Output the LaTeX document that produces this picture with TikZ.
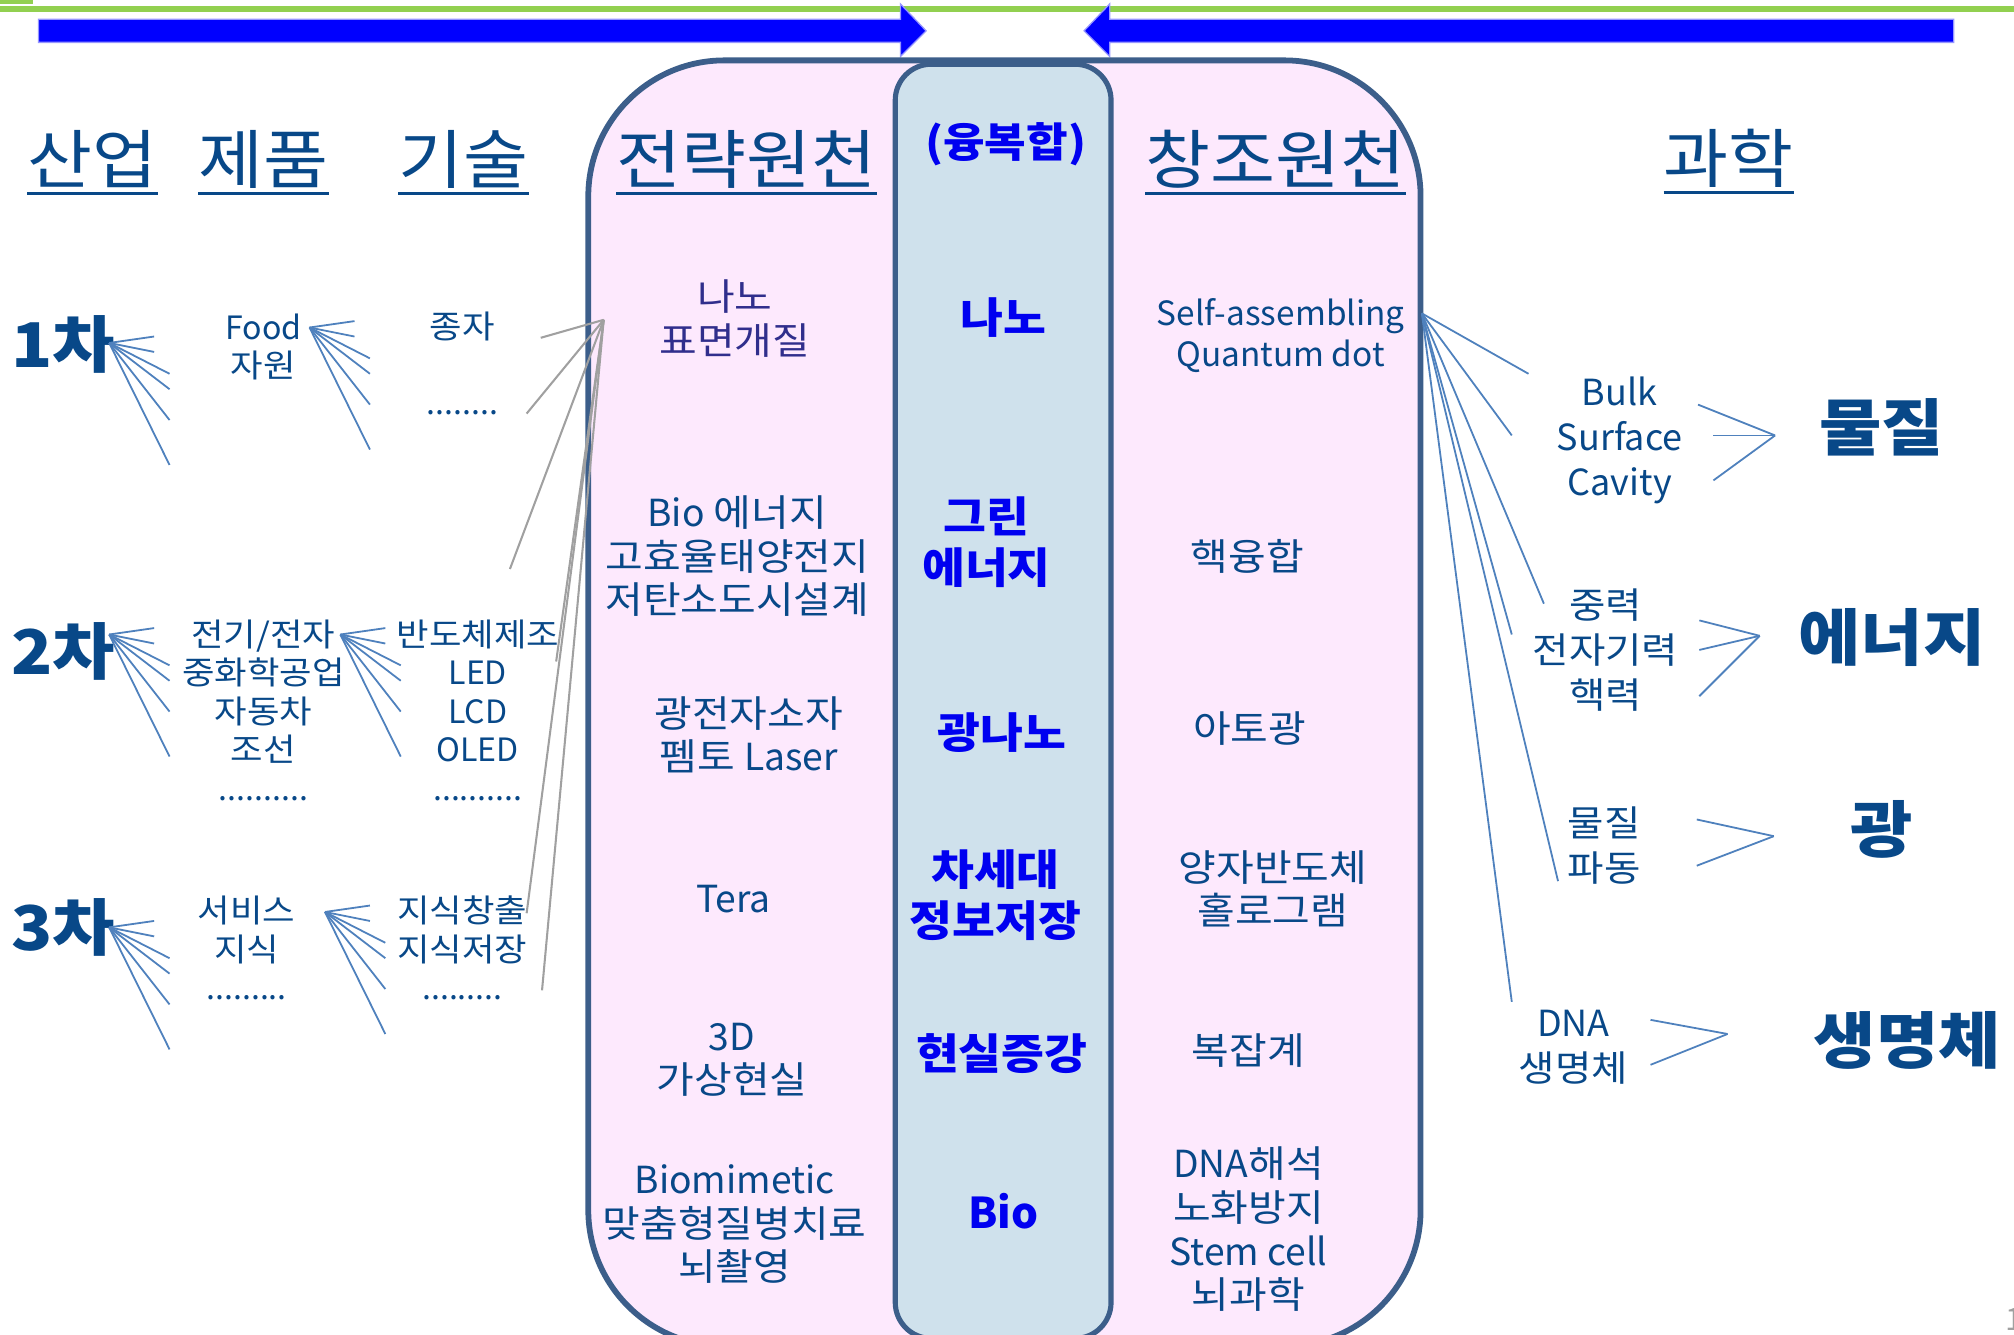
\documentclass[tikz,border=0pt]{standalone}
\usepackage{fontspec}
\setmainfont{Noto Sans CJK KR}[FakeStretch=1.1]
\newfontfamily\lat{Noto Sans CJK KR}
\definecolor{tblue}{RGB}{8,72,136}
\definecolor{tpurp}{RGB}{48,46,140}
\definecolor{mblue}{RGB}{0,0,240}
\definecolor{fanc}{RGB}{79,129,189}
\definecolor{grayc}{RGB}{160,160,160}
\definecolor{boxc}{RGB}{60,94,138}
\definecolor{pinkf}{RGB}{253,233,253}
\definecolor{innerf}{RGB}{207,225,236}
\definecolor{greenc}{RGB}{146,208,80}
\definecolor{arrc}{RGB}{0,0,255}
\definecolor{arre}{RGB}{150,150,255}
\begin{document}
\begin{tikzpicture}[x=1pt,y=-1pt,
  ttl/.style={inner sep=0pt, text=tblue, font=\fontsize{50}{56}\selectfont},
  uline/.style={draw=tblue, line width=2.6pt},
  cha/.style={inner sep=0pt, text=tblue, font=\fontsize{48}{56}\selectfont\bfseries},
  lbl/.style={inner sep=0pt, text=tblue, align=center, font=\fontsize{25}{30}\selectfont},
  pk/.style={inner sep=0pt, text=tblue, align=center, font=\fontsize{29}{34}\selectfont},
  rp/.style={inner sep=0pt, text=tblue, align=center, font=\fontsize{26}{32}\selectfont},
  mid/.style={inner sep=0pt, text=mblue, align=center, font=\fontsize{33}{40}\selectfont\bfseries},
  rt/.style={inner sep=0pt, text=tblue, align=center, font=\fontsize{28}{35}\selectfont},
  big/.style={inner sep=0pt, text=tblue, font=\fontsize{48}{56}\selectfont\bfseries},
  fan/.style={draw=fanc, line width=1.4pt},
  gline/.style={draw=grayc, line width=1.6pt},
  boxline/.style={draw=boxc, line width=4.5pt},
  innerline/.style={draw=boxc, line width=4pt},
  bigarrow/.style={fill=arrc, draw=arre, line width=1pt}
]
\useasboundingbox (0,0) rectangle (1568,1039);
% top green rule
\fill[greenc] (0,4.7) rectangle (1568,9.3);
\fill[greenc] (0,0) rectangle (26,3);
% blue arrows
\path[bigarrow] (30,15) -- (701,15) -- (701,3) -- (721,24) -- (701,44) -- (701,33) -- (30,33) -- cycle;
\path[bigarrow] (1521,15) -- (864,15) -- (864,3) -- (844,24) -- (864,44) -- (864,33) -- (1521,33) -- cycle;
% boxes
\path[boxline, fill=pinkf, rounded corners=106pt] (458,47) rectangle (1106,1048);
\path[innerline, fill=innerf, rounded corners=28pt] (697,50) rectangle (865,1042);
% titles
\node[ttl] (tA) at (72,124) {산업};
\node[ttl] (tB) at (205,124) {제품};
\node[ttl] (tC) at (361,124) {기술};
\node[ttl] (tD) at (581,124) {전략원천};
\node[ttl] (tE) at (993,124) {창조원천};
\node[ttl] (tF) at (1346,123) {과학};
\foreach \t in {tA,tB,tC,tD,tE,tF}
  \draw[uline] ([yshift=-4pt]\t.south west) -- ([yshift=-4pt]\t.south east);
\node[mid, font=\fontsize{32}{40}\selectfont\bfseries] (m0) at (783,112) {(융복합)};
% left side
\node[cha] (c1) at (49,268) {1차};
\node[cha] (c2) at (49,507) {2차};
\node[cha] (c3) at (49,722) {3차};
\node[lbl] (food) at (205,270) {{\lat Food}\\자원};
\node[lbl] (jongja) at (360,254) {종자};
\node[lbl] (dots1) at (360,321) {\lat ........};
\node[lbl] (ind2) at (205,553) {전기/전자\\중화학공업\\자동차\\조선\\{\lat ..........}};
\node[lbl] (tech2) at (372,553) {반도체제조\\{\lat LED}\\{\lat LCD}\\{\lat OLED}\\{\lat ..........}};
\node[lbl] (ind3) at (192,738) {서비스\\지식\\{\lat .........}};
\node[lbl] (tech3) at (360,738) {지식창출\\지식저장\\{\lat .........}};
% strategic sources
\node[pk, text=tpurp] (p1) at (572,248) {나노\\표면개질};
\node[pk] (p2) at (574,433) {{\lat Bio} 에너지\\고효율태양전지\\저탄소도시설계};
\node[pk] (p3) at (583,572) {광전자소자\\펨토 {\lat Laser}};
\node[pk] (p4) at (571,700) {\lat Tera};
\node[pk] (p5) at (570,825) {{\lat 3D}\\가상현실};
\node[pk] (p6) at (572,953) {{\lat Biomimetic}\\맞춤형질병치료\\뇌촬영};
% convergence column
\node[mid] (m1) at (781,247) {나노};
\node[mid] (m2) at (768,422) {그린\\에너지};
\node[mid] (m3) at (780,570) {광나노};
\node[mid] (m4) at (775,697) {차세대\\정보저장};
\node[mid] (m5) at (780,820) {현실증강};
\node[mid] (m6) at (781,943) {\lat Bio};
% creative sources
\node[rp] (r1) at (997,261) {\lat Self-assembling\\\lat Quantum dot};
\node[pk] (r2) at (971,433) {핵융합};
\node[pk] (r3) at (973,567) {아토광};
\node[pk] (r4) at (991,692) {양자반도체\\홀로그램};
\node[pk] (r5) at (972,818) {복잡계};
\node[pk] (r6) at (972,957) {{\lat DNA}해석\\노화방지\\{\lat Stem cell}\\뇌과학};
% science side
\node[rt] (s1) at (1261,343) {\lat Bulk\\\lat Surface\\\lat Cavity};
\node[big] (b1) at (1465,333) {물질};
\node[rt] (s2) at (1250,506) {중력\\전자기력\\핵력};
\node[big] (b2) at (1473,496) {에너지};
\node[rt] (s3) at (1249,658) {물질\\파동};
\node[big] (b3) at (1465,646) {광};
\node[rt] (s4) at (1225,815) {{\lat DNA}\\생명체};
\node[big] (b4) at (1485,810) {생명체};
\node[inner sep=0pt, text=grayc, font=\fontsize{24}{28}\selectfont, anchor=west] (pg) at (1561,1027) {\lat 1};
% left fans
\foreach \n/\ax/\ay in {fa/85/267,fb/241/255,fc/85/494,fd/265/494,fe/85/722,ff/253/710}{
  \coordinate (\n) at (\ax,\ay);
  \foreach \dx/\dy [count=\i] in {35/-5,35/7,47/24,47/36,47/60,47/95}{
    \coordinate (\n\i) at (\ax+\dx,\ay+\dy);
    \draw[fan] (\n) -- (\n\i);
  }
}
% gray lines
\coordinate (ga) at (470,249);
\foreach \x/\y [count=\i] in {421/263,410/322,397/443,433/515,410/711,422/771}{
  \coordinate (ge\i) at (\x,\y);
  \draw[gline] (ga) -- (ge\i);
}
% right fan
\coordinate (ra) at (1107,244);
\foreach \x/\y [count=\i] in {1190/291,1177/339,1202/470,1177/494,1213/686,1177/780}{
  \coordinate (re\i) at (\x,\y);
  \draw[fan] (ra) -- (re\i);
}
% chevrons
\coordinate (ka) at (1382,339);
\foreach \x/\y [count=\i] in {1322/315,1334/339,1334/374}{
  \coordinate (kae\i) at (\x,\y); \draw[fan] (ka) -- (kae\i);}
\coordinate (kb) at (1370,495);
\foreach \x/\y [count=\i] in {1323/483,1323/506,1323/542}{
  \coordinate (kbe\i) at (\x,\y); \draw[fan] (kb) -- (kbe\i);}
\coordinate (kc) at (1381,651);
\foreach \x/\y [count=\i] in {1321/638,1321/674}{
  \coordinate (kce\i) at (\x,\y); \draw[fan] (kc) -- (kce\i);}
\coordinate (kd) at (1345,805);
\foreach \x/\y [count=\i] in {1285/794,1285/829}{
  \coordinate (kde\i) at (\x,\y); \draw[fan] (kd) -- (kde\i);}
\end{tikzpicture}
\end{document}
